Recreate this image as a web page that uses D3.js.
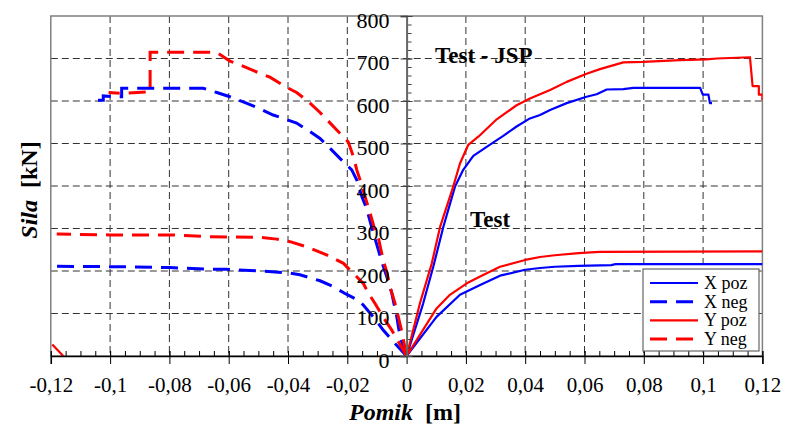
<!DOCTYPE html>
<html>
<head>
<meta charset="utf-8">
<script src="https://cdn.jsdelivr.net/npm/d3@7"></script>
<style>
html,body{margin:0;padding:0;background:#fff;}
svg{display:block;}
</style>
</head>
<body>
<svg id="chart" width="786" height="432" font-family="'Liberation Serif', serif"></svg>
<script>
// ---------- DATA ----------
const xTicks = [-0.12,-0.10,-0.08,-0.06,-0.04,-0.02,0,0.02,0.04,0.06,0.08,0.10,0.12];
const xTickLabels = ["-0,12","-0,1","-0,08","-0,06","-0,04","-0,02","0","0,02","0,04","0,06","0,08","0,1","0,12"];
const yTicks = [0,100,200,300,400,500,600,700,800];
const yTickLabels = ["0","100","200","300","400","500","600","700","800"];
const legendLabels = ["X poz","X neg","Y poz","Y neg"];

// Test - JSP curves
const xPozJSP = [[0,0],[0.0056,124],[0.009,210],[0.0124,304],[0.0163,398],[0.0191,438],[0.0225,471],[0.027,492],[0.0326,518],[0.0371,540],[0.0416,559],[0.045,567],[0.0484,579],[0.054,595],[0.0607,610],[0.0641,616],[0.0675,627],[0.0731,628],[0.0765,631],[0.099,631],[0.0999,615],[0.1018,615],[0.1023,595],[0.103,595]];
const yPozJSP = [[0,0],[0.0045,124],[0.0085,218],[0.0113,304],[0.0157,398],[0.018,453],[0.0208,497],[0.0242,516],[0.0304,557],[0.0371,590],[0.0416,606],[0.0484,626],[0.054,645],[0.0607,664],[0.0652,675],[0.0731,691],[0.0798,692],[0.0922,696],[0.1012,698],[0.1046,700],[0.1158,703],[0.1167,635],[0.1188,635],[0.1188,615],[0.12,615],[0.12,602]];
const xNegJSP = [[0,0],[-0.0022,45],[-0.0033,92],[-0.005,148],[-0.0067,187],[-0.0084,222],[-0.0095,249],[-0.0112,289],[-0.0135,347],[-0.0151,375],[-0.0168,414],[-0.0185,438],[-0.0219,461],[-0.0253,485],[-0.0292,512],[-0.0326,528],[-0.0371,548],[-0.0416,559],[-0.045,567],[-0.0506,585],[-0.0551,598],[-0.0596,610],[-0.064,620],[-0.0686,630],[-0.0922,630],[-0.0961,630],[-0.0961,610],[-0.0983,610],[-0.1023,612],[-0.1023,602],[-0.1057,602]];
const yNegJSP = [[0,0],[-0.0017,60],[-0.0039,124],[-0.0056,163],[-0.0067,198],[-0.0079,226],[-0.0095,277],[-0.0107,296],[-0.0123,336],[-0.014,375],[-0.0157,414],[-0.0168,438],[-0.018,470],[-0.0197,504],[-0.0225,524],[-0.0292,573],[-0.0337,602],[-0.0371,620],[-0.0404,632],[-0.0461,656],[-0.0494,665],[-0.0556,683],[-0.0596,694],[-0.064,714],[-0.0674,715],[-0.0826,715],[-0.0865,715],[-0.0865,622],[-0.0961,618],[-0.1005,620]];

// Test curves
const xPozTest = [[0,0],[0.0101,92],[0.018,144],[0.0248,167],[0.0315,189],[0.04,203],[0.045,207],[0.05,210],[0.058,212],[0.069,214],[0.0705,216],[0.12,216]];
const yPozTest = [[0,0],[0.0101,112],[0.0146,144],[0.0203,171],[0.0248,187],[0.0315,210],[0.04,226],[0.045,233],[0.05,237],[0.058,242],[0.065,245],[0.12,246]];
const xNegTest = [[0,0],[-0.004,30],[-0.0079,61],[-0.0104,85],[-0.0146,120],[-0.0168,133],[-0.0205,146],[-0.0247,163],[-0.0292,177],[-0.036,191],[-0.0404,196],[-0.0494,200],[-0.0607,204],[-0.0652,204],[-0.0798,208],[-0.0944,210],[-0.12,211]];
const yNegTest = [[0,0],[-0.005,61],[-0.0073,85],[-0.0107,124],[-0.0129,148],[-0.0146,171],[-0.0185,198],[-0.0213,218],[-0.027,238],[-0.0337,257],[-0.0393,269],[-0.0438,275],[-0.0494,279],[-0.0674,281],[-0.0798,285],[-0.1,285],[-0.118,287]];

// stray red series at lower left
const series5 = [[-0.1195,27],[-0.1158,0]];

// ---------- CHART ----------
const svg = d3.select("#chart");
const L = 50.8, R = 762.4, T = 16, B = 356;
const x = d3.scaleLinear().domain([-0.12,0.12]).range([L,R]);
const y = d3.scaleLinear().domain([0,800]).range([B,T]);

svg.append("defs").append("clipPath").attr("id","clip")
  .append("rect").attr("x",L).attr("y",T-2).attr("width",R-L).attr("height",B-T+2);

// grid
const grid = svg.append("g").attr("stroke","#333").attr("stroke-width",1).attr("stroke-dasharray","7,4");
grid.selectAll("line.v").data(xTicks.filter(v=>v!==0 && Math.abs(v)<0.119)).join("line")
  .attr("x1",d=>x(d)).attr("x2",d=>x(d)).attr("y1",T).attr("y2",B);
grid.selectAll("line.h").data(yTicks.filter(v=>v>0 && v<800)).join("line")
  .attr("x1",L).attr("x2",R).attr("y1",d=>y(d)).attr("y2",d=>y(d));

// frame
svg.append("rect").attr("x",L).attr("y",T).attr("width",R-L).attr("height",B-T)
  .attr("fill","none").attr("stroke","#808080").attr("stroke-width",1.5);

// data lines
const line = d3.line().x(d=>x(d[0])).y(d=>y(d[1]));
const plot = svg.append("g").attr("clip-path","url(#clip)").attr("fill","none");
const solid = [[xPozJSP,"#0000ff"],[yPozJSP,"#ff0000"],[xPozTest,"#0000ff"],[yPozTest,"#ff0000"],[series5,"#ff0000"]];
const dashed = [[xNegJSP,"#0000ff"],[yNegJSP,"#ff0000"],[xNegTest,"#0000ff"],[yNegTest,"#ff0000"]];
solid.forEach(([d,c])=>plot.append("path").datum(d).attr("d",line).attr("stroke",c).attr("stroke-width",2.2).attr("stroke-linejoin","round"));
dashed.forEach(([d,c])=>plot.append("path").datum(d).attr("d",line).attr("stroke",c).attr("stroke-width",3).attr("stroke-dasharray","17,9"));

// x axis
const minorX = d3.range(-0.12,0.1201,0.005);
const gx = svg.append("g").attr("transform",`translate(0,${B})`);
gx.call(d3.axisBottom(x).tickValues(minorX).tickSize(-5).tickFormat(""));
gx.select(".domain").remove();
gx.selectAll("line").attr("stroke","#000");
const gx2 = svg.append("g").attr("transform",`translate(0,${B})`);
gx2.call(d3.axisBottom(x).tickValues(xTicks).tickSize(8).tickPadding(13).tickFormat((d,i)=>xTickLabels[i]));
gx2.attr("font-family",null).attr("font-size",21);
gx2.select(".domain").attr("stroke","#000").attr("stroke-width",1.5);
gx2.selectAll(".tick line").attr("y1",-5).attr("y2",8).attr("stroke","#000");
gx2.selectAll("text").attr("fill","#000");

// y axis at x=0
const minorY = d3.range(0,801,20);
const gy = svg.append("g").attr("transform",`translate(${x(0)},0)`);
gy.call(d3.axisRight(y).tickValues(minorY).tickSize(5).tickFormat(""));
gy.select(".domain").remove();
gy.selectAll("line").attr("stroke","#444");
const gy2 = svg.append("g").attr("transform",`translate(${x(0)},0)`);
gy2.call(d3.axisLeft(y).tickValues(yTicks).tickSize(6).tickPadding(11).tickFormat((d,i)=>yTickLabels[i]));
gy2.attr("font-family",null).attr("font-size",22);
gy2.select(".domain").attr("stroke","#666").attr("stroke-width",2);
gy2.selectAll(".tick line").attr("x1",-6).attr("x2",6).attr("stroke","#444");
gy2.selectAll("text").attr("fill","#000").attr("y",4);

// annotations
svg.append("text").attr("x",435).attr("y",63).attr("font-size",23).attr("font-weight","bold").text("Test - JSP");
svg.append("text").attr("x",470).attr("y",227).attr("font-size",23).attr("font-weight","bold").text("Test");

// axis titles
const xt = svg.append("text").attr("x",405).attr("y",420).attr("text-anchor","middle").attr("font-size",24).attr("font-weight","bold");
xt.append("tspan").attr("font-style","italic").text("Pomik");
xt.append("tspan").text("\u00a0\u00a0[m]");
const yt = svg.append("text").attr("transform","translate(37,190) rotate(-90)").attr("text-anchor","middle").attr("font-size",24).attr("font-weight","bold");
yt.append("tspan").attr("font-style","italic").text("Sila");
yt.append("tspan").text("\u00a0\u00a0[kN]");

// legend
const lg = svg.append("g");
lg.append("rect").attr("x",643).attr("y",269).attr("width",116).attr("height",82)
  .attr("fill","#fff").attr("stroke","#666").attr("stroke-width",1.2);
const legendStyles = [["#0000ff",null,2.2],["#0000ff","17,9",3],["#ff0000",null,2.2],["#ff0000","17,9",3]];
legendLabels.forEach((lab,i)=>{
  const yy = 283 + i*18.7;
  lg.append("line").attr("x1",650).attr("x2",698).attr("y1",yy).attr("y2",yy)
    .attr("stroke",legendStyles[i][0]).attr("stroke-width",legendStyles[i][2])
    .attr("stroke-dasharray",legendStyles[i][1]);
  lg.append("text").attr("x",704).attr("y",yy+6).attr("font-size",18).text(lab);
});
</script>
</body>
</html>
